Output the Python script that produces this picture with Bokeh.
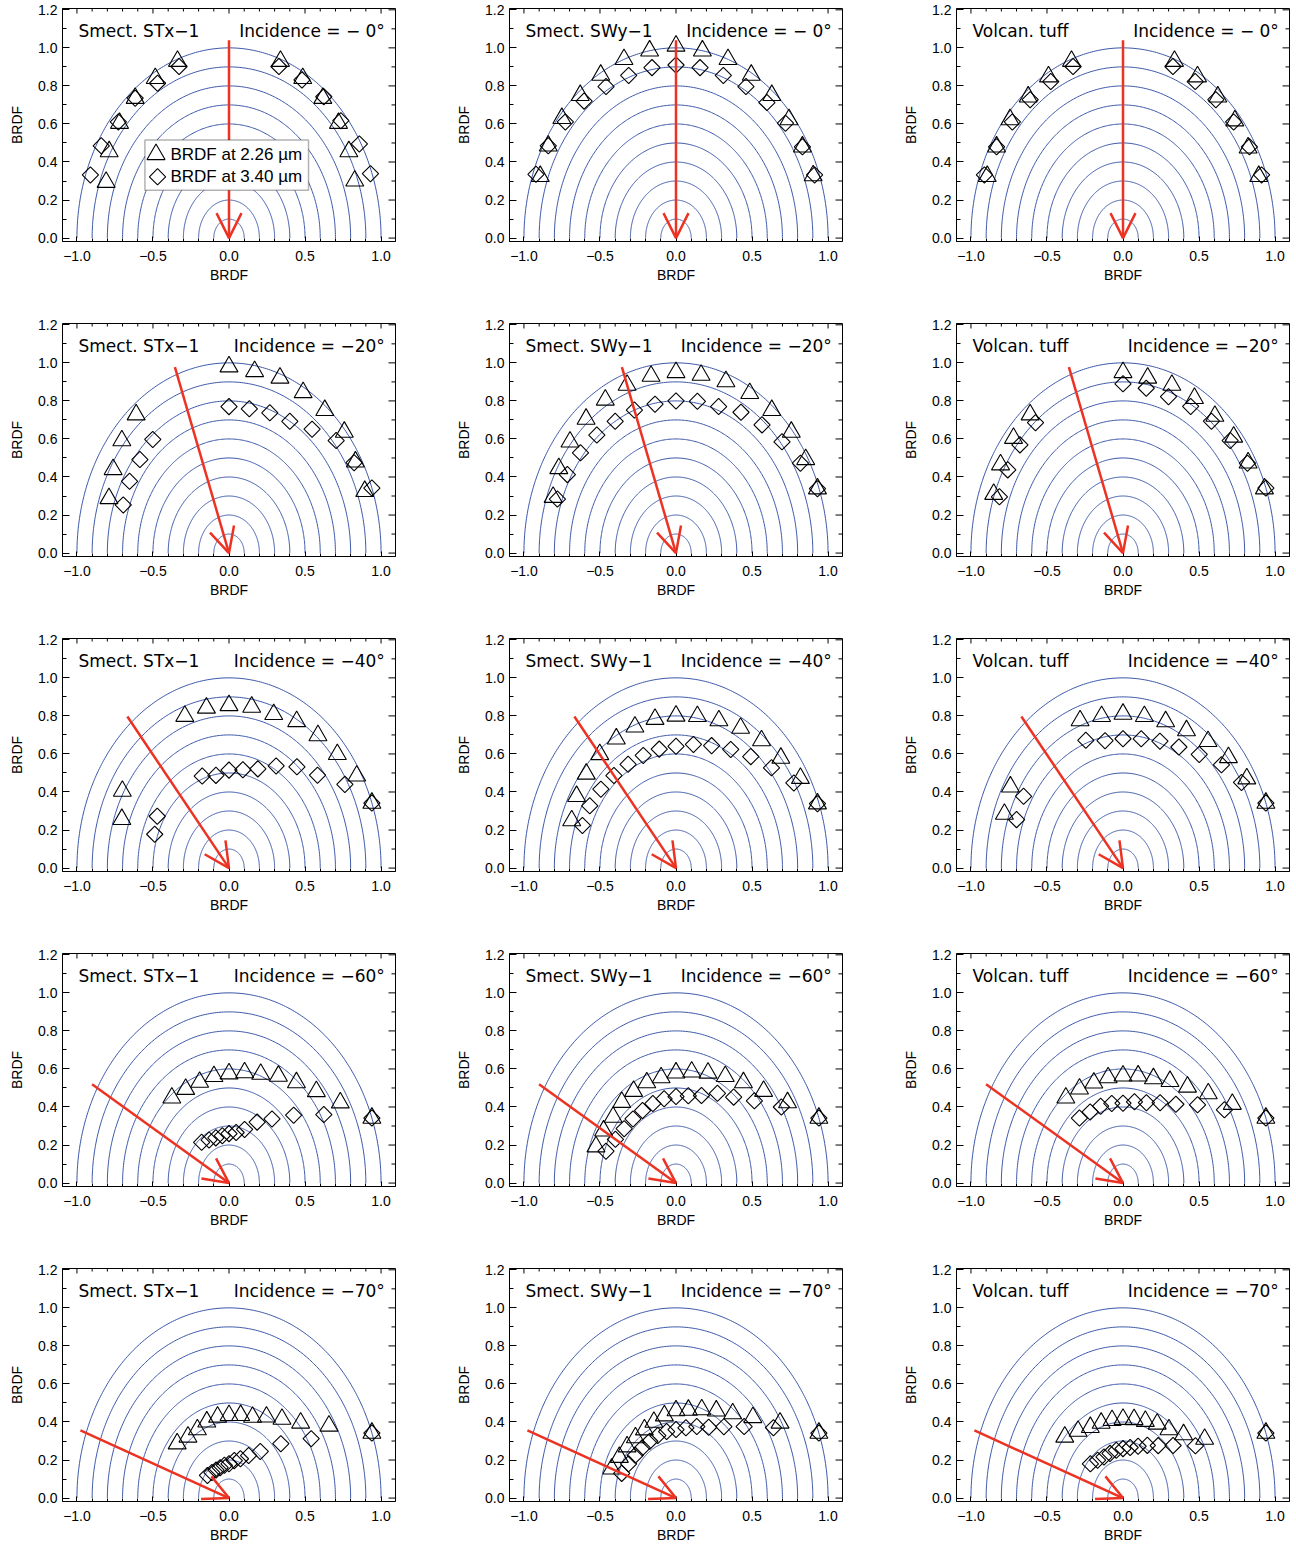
import numpy as np
from bokeh.plotting import figure
from bokeh.models import (Range1d, SingleIntervalTicker, CustomJSTickFormatter,
                          Arrow, OpenHead, BoxAnnotation, Label)
from bokeh.layouts import column, row
from bokeh.embed import file_html
from bokeh.resources import INLINE

# ---------------------------------------------------------------- data
SAMPLES = ["Smect. STx\u22121", "Smect. SWy\u22121", "Volcan. tuff"]
INCIDENCES = [0, -20, -40, -60, -70]
RING_RADII = [0.1, 0.2, 0.3, 0.4, 0.5, 0.6, 0.7, 0.8, 0.9, 1.0]
LEGEND_LABELS = ["BRDF at 2.26 \u00b5m", "BRDF at 3.40 \u00b5m"]

EMIS_ALL = [-70, -60, -50, -40, -30, -20, -10, 0, 10, 20, 30, 40, 50, 60, 70]

# incidence 0
stx_i00_emis = [-70, -60, -50, -40, -30, -20, 20, 30, 40, 50, 60, 70]
stx_i00_b226 = [0.86, 0.91, 0.94, 0.96, 0.97, 0.99, 0.99, 0.97, 0.96, 0.94, 0.91, 0.88]
stx_i00_b340 = [0.97, 0.97, 0.95, 0.96, 0.94, 0.96, 0.96, 0.96, 0.97, 0.96, 0.99, 0.99]
swy_i00_emis = EMIS_ALL
swy_i00_b226 = [0.95, 0.97, 0.98, 0.98, 0.99, 1.0, 1.0, 1.01, 1.0, 1.0, 0.99, 0.98, 0.97, 0.96, 0.96]
swy_i00_b340 = [0.98, 0.97, 0.95, 0.94, 0.92, 0.91, 0.91, 0.91, 0.91, 0.91, 0.92, 0.93, 0.94, 0.96, 0.97]
vt_i00_emis = [-70, -60, -50, -40, -30, -20, 20, 30, 40, 50, 60, 70]
vt_i00_b226 = [0.95, 0.96, 0.97, 0.97, 0.98, 0.99, 0.99, 0.98, 0.97, 0.96, 0.95, 0.95]
vt_i00_b340 = [0.97, 0.96, 0.95, 0.95, 0.95, 0.96, 0.96, 0.95, 0.95, 0.95, 0.96, 0.97]

# incidence -20
stx_i20_emis = [-70, -60, -50, -40, 0, 10, 20, 30, 40, 50, 60, 70]
stx_i20_b226 = [0.84, 0.88, 0.92, 0.95, 0.98, 0.97, 0.98, 0.975, 0.98, 0.99, 0.96, 0.95]
stx_i20_b340 = [0.74, 0.755, 0.765, 0.78, 0.77, 0.77, 0.785, 0.80, 0.85, 0.92, 0.95, 1.0]
swy_i20_emis = EMIS_ALL
swy_i20_b226 = [0.86, 0.89, 0.91, 0.92, 0.93, 0.94, 0.945, 0.95, 0.95, 0.96, 0.97, 0.98, 0.99, 0.985, 0.99]
swy_i20_b340 = [0.83, 0.825, 0.82, 0.81, 0.80, 0.80, 0.795, 0.80, 0.81, 0.82, 0.855, 0.88, 0.91, 0.945, 0.99]
vt_i20_emis = [-70, -60, -50, -40, 0, 10, 20, 30, 40, 50, 60, 70]
vt_i20_b226 = [0.905, 0.93, 0.94, 0.95, 0.95, 0.935, 0.94, 0.94, 0.94, 0.95, 0.95, 0.99]
vt_i20_b340 = [0.865, 0.875, 0.885, 0.895, 0.89, 0.88, 0.875, 0.89, 0.905, 0.92, 0.945, 1.0]

# incidence -40
stx_i40_emis = [-70, -60, -20, -10, 0, 10, 20, 30, 40, 50, 60, 70]
stx_i40_b226 = [0.75, 0.81, 0.85, 0.855, 0.855, 0.86, 0.86, 0.89, 0.91, 0.93, 0.97, 1.0]
stx_i40_b340 = [0.52, 0.545, 0.515, 0.495, 0.515, 0.525, 0.555, 0.62, 0.695, 0.76, 0.88, 1.0]
swy_i40_emis = EMIS_ALL
swy_i40_b226 = [0.73, 0.755, 0.77, 0.78, 0.785, 0.79, 0.795, 0.80, 0.81, 0.825, 0.85, 0.875, 0.90, 0.945, 0.99]
swy_i40_b340 = [0.655, 0.655, 0.645, 0.635, 0.63, 0.63, 0.635, 0.64, 0.66, 0.685, 0.72, 0.765, 0.82, 0.895, 0.99]
vt_i40_emis = [-70, -60, -20, -10, 0, 10, 20, 30, 40, 50, 60, 70]
vt_i40_b226 = [0.83, 0.855, 0.825, 0.81, 0.81, 0.81, 0.82, 0.835, 0.87, 0.905, 0.94, 1.0]
vt_i40_b340 = [0.745, 0.755, 0.715, 0.68, 0.68, 0.69, 0.71, 0.735, 0.78, 0.845, 0.90, 1.0]

# incidence -60
stx_i60_emis = [-40, -30, -20, -10, 0, 10, 20, 30, 40, 50, 60, 70]
stx_i60_b226 = [0.585, 0.57, 0.565, 0.57, 0.575, 0.59, 0.61, 0.65, 0.69, 0.75, 0.845, 1.0]
stx_i60_b340 = [0.28, 0.262, 0.253, 0.253, 0.26, 0.27, 0.30, 0.37, 0.44, 0.555, 0.72, 1.0]
swy_i60_emis = EMIS_ALL
swy_i60_b226 = [0.56, 0.55, 0.54, 0.555, 0.558, 0.562, 0.563, 0.58, 0.594, 0.616, 0.648, 0.69, 0.752, 0.847, 1.0]
swy_i60_b340 = [0.49, 0.46, 0.445, 0.44, 0.44, 0.445, 0.45, 0.455, 0.466, 0.49, 0.545, 0.59, 0.673, 0.80, 1.0]
vt_i60_emis = [-40, -30, -20, -10, 0, 10, 20, 30, 40, 50, 60, 70]
vt_i60_b226 = [0.585, 0.572, 0.561, 0.563, 0.564, 0.573, 0.585, 0.618, 0.66, 0.732, 0.83, 1.0]
vt_i60_b340 = [0.446, 0.432, 0.43, 0.425, 0.42, 0.434, 0.45, 0.488, 0.541, 0.64, 0.77, 1.0]

# incidence -70
stx_i70_emis = [-50, -40, -30, -20, -10, 0, 10, 20, 30, 40, 50, 60, 70]
stx_i70_b226 = [0.445, 0.42, 0.416, 0.427, 0.433, 0.435, 0.442, 0.453, 0.493, 0.542, 0.615, 0.759, 1.0]
stx_i70_b340 = [0.185, 0.175, 0.17, 0.17, 0.175, 0.18, 0.20, 0.22, 0.258, 0.32, 0.445, 0.624, 1.0]
swy_i70_emis = EMIS_ALL
swy_i70_b226 = [0.45, 0.43, 0.42, 0.415, 0.415, 0.425, 0.44, 0.46, 0.47, 0.495, 0.53, 0.58, 0.66, 0.79, 1.0]
swy_i70_b340 = [0.38, 0.36, 0.35, 0.345, 0.345, 0.35, 0.355, 0.36, 0.375, 0.40, 0.43, 0.49, 0.585, 0.74, 1.0]
vt_i70_emis = [-50, -40, -30, -20, -10, 0, 10, 20, 30, 40, 50, 60, 70]
vt_i70_b226 = [0.50, 0.46, 0.43, 0.42, 0.415, 0.415, 0.42, 0.43, 0.45, 0.47, 0.52, 0.62, 1.0]
vt_i70_b340 = [0.28, 0.26, 0.25, 0.25, 0.255, 0.26, 0.27, 0.29, 0.32, 0.36, 0.43, 0.55, 1.0]

PANELS = [
    [(stx_i00_emis, stx_i00_b226, stx_i00_b340), (swy_i00_emis, swy_i00_b226, swy_i00_b340), (vt_i00_emis, vt_i00_b226, vt_i00_b340)],
    [(stx_i20_emis, stx_i20_b226, stx_i20_b340), (swy_i20_emis, swy_i20_b226, swy_i20_b340), (vt_i20_emis, vt_i20_b226, vt_i20_b340)],
    [(stx_i40_emis, stx_i40_b226, stx_i40_b340), (swy_i40_emis, swy_i40_b226, swy_i40_b340), (vt_i40_emis, vt_i40_b226, vt_i40_b340)],
    [(stx_i60_emis, stx_i60_b226, stx_i60_b340), (swy_i60_emis, swy_i60_b226, swy_i60_b340), (vt_i60_emis, vt_i60_b226, vt_i60_b340)],
    [(stx_i70_emis, stx_i70_b226, stx_i70_b340), (swy_i70_emis, swy_i70_b226, swy_i70_b340), (vt_i70_emis, vt_i70_b226, vt_i70_b340)],
]

# ---------------------------------------------------------------- style
RED = "#ec3323"
BLUE = "#3a56a8"
TICK_FONT = "Liberation Sans"
TITLE_FONT = "DejaVu Sans"
ARROW_LEN = 1.04
X_LO, X_HI = -1.095, 1.095
Y_LO, Y_HI = -0.018, 1.207
FRAME_W, FRAME_H = 333, 233
ROW_STEP = 315
BORDER_TOP = 8
BORDER_LEFT = 62
COL_STEP = 447

X_MAJOR = [-1.0, -0.5, 0.0, 0.5, 1.0]
X_MINOR = [v / 10 for v in range(-10, 11) if v % 5 != 0]
Y_MAJOR = [0.0, 0.2, 0.4, 0.6, 0.8, 1.0, 1.2]
Y_MINOR = [v / 10 for v in range(1, 12, 2)]

fmt_code = """
const v = Math.abs(tick) < 1e-9 ? 0 : tick;
return v.toFixed(1).replace('-', '\\u2212');
"""


def style_axis(ax, major_in, minor_in):
    ax.major_tick_in = major_in
    ax.major_tick_out = 0
    ax.minor_tick_in = minor_in
    ax.minor_tick_out = 0
    ax.axis_line_color = "black"
    ax.axis_line_width = 1
    ax.major_tick_line_color = "black"
    ax.minor_tick_line_color = "black"
    ax.major_label_text_font = TICK_FONT
    ax.major_label_text_font_size = "14px"
    ax.major_label_text_color = "black"
    ax.axis_label = "BRDF"
    ax.axis_label_text_font = TICK_FONT
    ax.axis_label_text_font_size = "14px"
    ax.axis_label_text_font_style = "normal"
    ax.axis_label_text_color = "black"


def make_panel(ri, ci):
    inc = INCIDENCES[ri]
    emis, b226, b340 = PANELS[ri][ci]
    last_row = ri == len(INCIDENCES) - 1
    last_col = ci == len(SAMPLES) - 1

    p = figure(frame_width=FRAME_W, frame_height=FRAME_H,
               x_range=Range1d(X_LO, X_HI), y_range=Range1d(Y_LO, Y_HI),
               output_backend="svg", toolbar_location=None,
               min_border_left=BORDER_LEFT,
               min_border_right=3 if last_col else COL_STEP - BORDER_LEFT - FRAME_W,
               min_border_top=BORDER_TOP,
               min_border_bottom=0 if last_row else ROW_STEP - FRAME_H - BORDER_TOP,
               outline_line_color="black", background_fill_color="white",
               border_fill_color="white")
    p.grid.visible = False

    fmt = CustomJSTickFormatter(code=fmt_code)
    xb = p.below[0]
    xb.ticker = SingleIntervalTicker(interval=0.5, num_minor_ticks=5)
    xb.formatter = fmt
    style_axis(xb, 5, 3)
    xb.major_label_standoff = 9
    xb.axis_label_standoff = 3

    yl = p.left[0]
    yl.ticker = SingleIntervalTicker(interval=0.2, num_minor_ticks=2)
    yl.formatter = fmt
    style_axis(yl, 7, 4)
    yl.major_label_standoff = 5
    yl.axis_label_standoff = 10

    # tick marks on the top and right frame edges (no labels)
    p.ray(x=X_MAJOR, y=[Y_HI] * len(X_MAJOR), length=5, length_units="screen",
          angle=-np.pi / 2, line_color="black", line_width=1)
    p.ray(x=X_MINOR, y=[Y_HI] * len(X_MINOR), length=3, length_units="screen",
          angle=-np.pi / 2, line_color="black", line_width=1)
    p.ray(x=[X_HI] * len(Y_MAJOR), y=Y_MAJOR, length=7, length_units="screen",
          angle=np.pi, line_color="black", line_width=1)
    p.ray(x=[X_HI] * len(Y_MINOR), y=Y_MINOR, length=4, length_units="screen",
          angle=np.pi, line_color="black", line_width=1)

    # iso-BRDF rings
    t = np.linspace(0, np.pi, 241)
    xs = [list(r * np.cos(t)) for r in RING_RADII]
    ys = [list(r * np.sin(t)) for r in RING_RADII]
    p.multi_line(xs, ys, line_color=BLUE, line_width=1)

    # measurements
    th = np.radians(np.array(emis, dtype=float))
    b226 = np.array(b226)
    b340 = np.array(b340)
    p.scatter(b226 * np.sin(th), b226 * np.cos(th), marker="triangle", size=18,
              fill_color=None, line_color="black", line_width=1.1)
    p.scatter(b340 * np.sin(th), b340 * np.cos(th), marker="square", angle=np.pi / 4,
              size=11.5, fill_color=None, line_color="black", line_width=1.1)

    # incidence arrow
    a = np.radians(inc)
    p.add_layout(Arrow(end=OpenHead(size=25, line_color=RED, line_width=2.5),
                       x_start=ARROW_LEN * np.sin(a), y_start=ARROW_LEN * np.cos(a),
                       x_end=0, y_end=0, line_color=RED, line_width=2.5))

    # titles
    p.add_layout(Label(x=-0.99, y=1.09, text=SAMPLES[ci], text_font=TITLE_FONT,
                       text_font_size="17px", text_baseline="middle", text_align="left",
                       text_color="black"))
    p.add_layout(Label(x=1.025, y=1.09, text=f"Incidence = \u2212{abs(inc):2d}\u00b0",
                       text_font=TITLE_FONT, text_font_size="17px", text_baseline="middle",
                       text_align="right", text_color="black"))

    if ri == 0 and ci == 0:
        p.add_layout(BoxAnnotation(left=-0.553, right=0.523, bottom=0.252, top=0.515,
                                   fill_color="white", fill_alpha=1.0,
                                   line_color="black", line_width=1.5))
        lx, ly = [-0.48, -0.47], [0.44, 0.322]
        r1 = p.scatter([lx[0]], [ly[0]], marker="triangle", size=18, fill_color=None,
                       line_color="black", line_width=1.1)
        r2 = p.scatter([lx[1]], [ly[1]], marker="square", angle=np.pi / 4, size=11.5,
                       fill_color=None, line_color="black", line_width=1.1)
        r1.level = "overlay"
        r2.level = "overlay"
        for yy, txt in zip(ly, LEGEND_LABELS):
            p.add_layout(Label(x=-0.385, y=yy, text=txt, text_font=TICK_FONT,
                               text_font_size="17px", text_baseline="middle",
                               text_align="left", text_color="black"))
    return p


rows = []
for ri in range(len(INCIDENCES)):
    rows.append(row(*[make_panel(ri, ci) for ci in range(len(SAMPLES))]))
layout = column(*rows)

open("out.html", "w").write(file_html(layout, INLINE, title="BRDF"))
